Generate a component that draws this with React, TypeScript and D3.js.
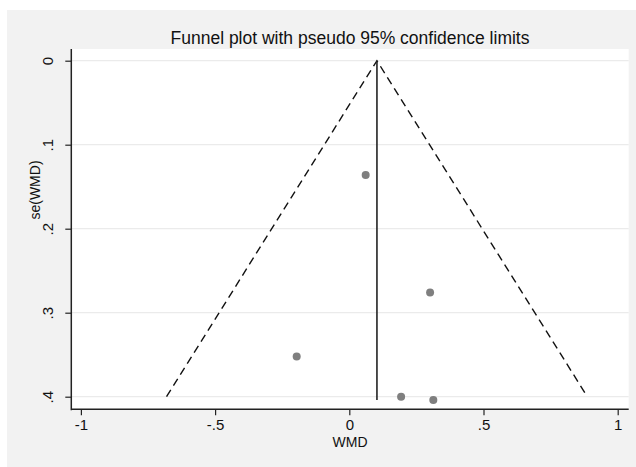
import React, { useEffect, useRef } from "react";
import * as d3 from "d3";

// Funnel plot (Stata style)
const studyWMD = [0.061, 0.301, -0.196, 0.193, 0.313];
const studySE = [0.136, 0.276, 0.352, 0.4, 0.404];
const pooledWMD = 0.103;
const pooledLineSE = [0, 0.404];
const funnelWMD = [-0.681, 0.103, 0.887];
const funnelSE = [0.4, 0, 0.4];
const xTicks = [-1, -0.5, 0, 0.5, 1];
const xTickLabels = ["-1", "-.5", "0", ".5", "1"];
const yTicks = [0, 0.1, 0.2, 0.3, 0.4];
const yTickLabels = ["0", ".1", ".2", ".3", ".4"];

const width = 636;
const height = 467;
const font = "'Liberation Sans', Arial, sans-serif";

export default function App() {
  const ref = useRef<SVGSVGElement>(null);

  useEffect(() => {
    const svg = d3.select(ref.current);
    svg.selectAll("*").remove();

    const plot = { left: 71.3, right: 628.7, top: 49, bottom: 409.3 };
    const xScale = d3.scaleLinear().domain([-1, 1]).range([80.9, 617.7]);
    const yScale = d3.scaleLinear().domain([0, 0.4]).range([60.7, 396.7]);

    // outer background
    svg.append("rect")
      .attr("x", 7).attr("y", 10)
      .attr("width", width - 7).attr("height", height - 10)
      .attr("fill", "#f2f2f2");

    // plot region
    svg.append("rect")
      .attr("x", plot.left).attr("y", plot.top)
      .attr("width", plot.right - plot.left).attr("height", plot.bottom - plot.top)
      .attr("fill", "#ffffff");

    // gridlines
    svg.append("g").selectAll("line").data(yTicks).join("line")
      .attr("x1", plot.left).attr("x2", plot.right)
      .attr("y1", d => yScale(d)).attr("y2", d => yScale(d))
      .attr("stroke", "#ebebeb").attr("stroke-width", 1.2);

    // funnel (pseudo 95% limits)
    const line = d3.line<number>()
      .x((d, i) => xScale(funnelWMD[i]))
      .y(d => yScale(d));
    svg.append("path")
      .attr("d", line(funnelSE))
      .attr("fill", "none")
      .attr("stroke", "#111")
      .attr("stroke-width", 1.4)
      .attr("stroke-dasharray", "8,5");

    // pooled estimate line
    svg.append("line")
      .attr("x1", xScale(pooledWMD)).attr("x2", xScale(pooledWMD))
      .attr("y1", yScale(pooledLineSE[0])).attr("y2", yScale(pooledLineSE[1]))
      .attr("stroke", "#222").attr("stroke-width", 1.6);

    // studies
    svg.append("g").selectAll("circle").data(studyWMD).join("circle")
      .attr("cx", d => xScale(d))
      .attr("cy", (d, i) => yScale(studySE[i]))
      .attr("r", 4)
      .attr("fill", "#7f7f7f");

    // axes
    const xAxis = d3.axisBottom(xScale)
      .tickValues(xTicks)
      .tickSize(6)
      .tickFormat((d, i) => xTickLabels[i]);
    const gx = svg.append("g")
      .attr("transform", `translate(0,${plot.bottom})`)
      .call(xAxis);
    gx.select(".domain").remove();
    gx.selectAll(".tick line").attr("stroke", "#222").attr("stroke-width", 1.2);
    gx.selectAll(".tick text")
      .attr("y", 10)
      .attr("fill", "#111")
      .style("font-family", font)
      .style("font-size", "15px");

    const yAxis = d3.axisLeft(yScale)
      .tickValues(yTicks)
      .tickSize(6)
      .tickFormat((d, i) => yTickLabels[i]);
    const gy = svg.append("g")
      .attr("transform", `translate(${plot.left},0)`)
      .call(yAxis);
    gy.select(".domain").remove();
    gy.selectAll(".tick line").attr("stroke", "#222").attr("stroke-width", 1.2);
    gy.selectAll(".tick text")
      .attr("x", 0).attr("dy", 0)
      .attr("transform", "translate(-18,0) rotate(-90)")
      .attr("text-anchor", "middle")
      .attr("fill", "#111")
      .style("font-family", font)
      .style("font-size", "15px");

    // axis lines
    svg.append("line")
      .attr("x1", plot.left).attr("x2", plot.left)
      .attr("y1", plot.top).attr("y2", plot.bottom + 1)
      .attr("stroke", "#222").attr("stroke-width", 1.5);
    svg.append("line")
      .attr("x1", plot.left).attr("x2", plot.right)
      .attr("y1", plot.bottom).attr("y2", plot.bottom)
      .attr("stroke", "#222").attr("stroke-width", 1.5);

    // titles
    svg.append("text")
      .attr("x", 350).attr("y", 44)
      .attr("text-anchor", "middle")
      .style("font-family", font)
      .style("font-size", "17.5px")
      .attr("fill", "#111")
      .text("Funnel plot with pseudo 95% confidence limits");
    svg.append("text")
      .attr("x", 350).attr("y", 447)
      .attr("text-anchor", "middle")
      .style("font-family", font)
      .style("font-size", "14px")
      .attr("fill", "#111")
      .text("WMD");
    svg.append("text")
      .attr("transform", "translate(40,190) rotate(-90)")
      .attr("text-anchor", "middle")
      .style("font-family", font)
      .style("font-size", "14px")
      .attr("fill", "#111")
      .text("se(WMD)");
  }, []);

  return (
    <svg
      ref={ref}
      width={width}
      height={height}
      style={{ position: "absolute", left: 0, top: 0, display: "block" }}
    />
  );
}
